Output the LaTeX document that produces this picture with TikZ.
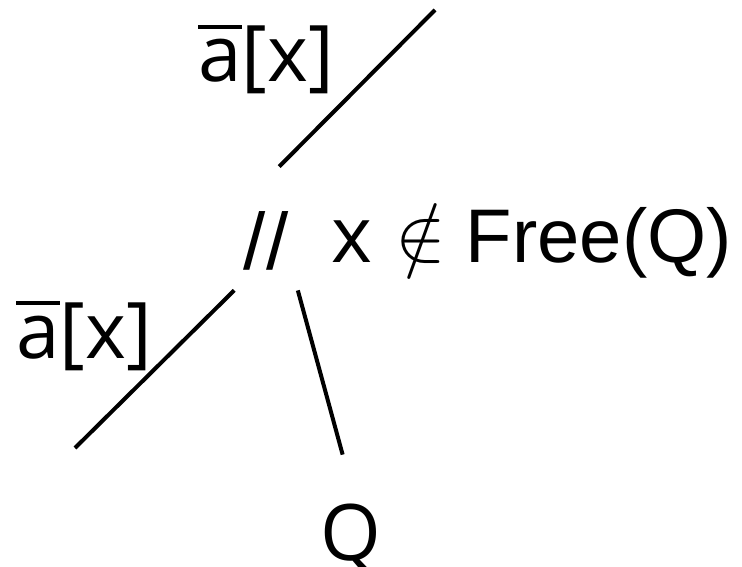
\documentclass[tikz,border=0pt]{standalone}
\usepackage{fontspec}
\newfontfamily\lblfont{Open Sans}
\newfontfamily\freefont{Liberation Sans}
\newcommand{\abar}{\vbox{\hrule height 2pt\kern 5.5pt\hbox{a}}}

\begin{document}
\begin{tikzpicture}[x=0.5pt, y=-0.5pt,
	lbl/.style={inner sep=0pt, font=\fontsize{39}{47}\lblfont},
	branch/.style={line width=2pt}]
	\useasboundingbox (0,0) rectangle (742,566);
	% Nodes and labels:
	\coordinate (root) at (435,10);
	\node[anchor=base, inner xsep=4.6pt, inner ysep=0pt, text height=51.5pt, text depth=10pt, font=\fontsize{40}{48}\freefont] (par) at (266,270) {//};
	\node[lbl, anchor=base west] (cond) at (331,263) {x\hspace{11.5pt}{\normalsize\raisebox{1.5pt}{\scalebox{3.8}{$\notin$}}}\hspace{10pt}{\fontsize{38}{46}\freefont Free(Q)}};
	\coordinate (leaf) at (75,448);
	\node[lbl, anchor=base, text height=52.5pt, text depth=0pt] (q) at (351,560) {Q};
	\node[lbl, anchor=base west] (lup) at (198,82) {\abar[x]};
	\node[lbl, anchor=base west] (llow) at (16,358) {\abar[x]};
	% Branches:
	\draw[branch] (root) -- (par.78);
	\draw[branch] (par.south west) -- (leaf);
	\draw[branch] (par.south east) -- (q.99);
\end{tikzpicture}
\end{document}
